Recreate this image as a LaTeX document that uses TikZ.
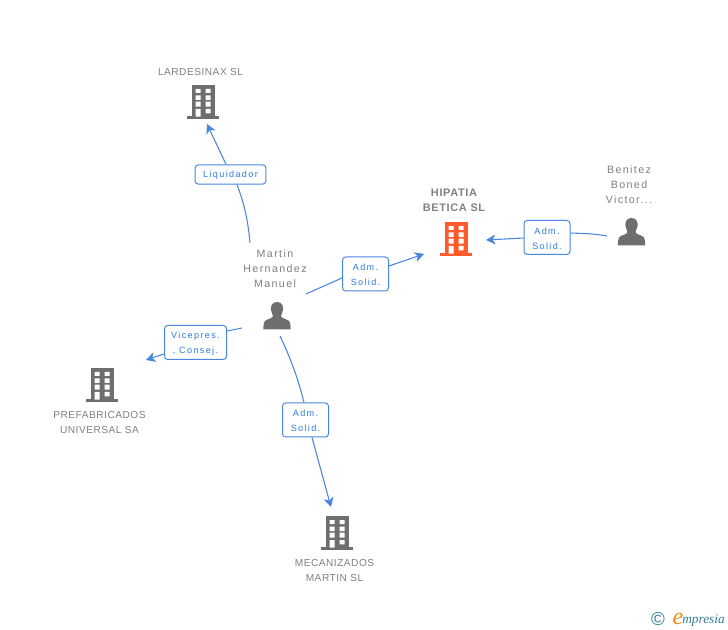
\documentclass[tikz,border=0pt]{standalone}
\usepackage{fontspec}
\setmainfont{Liberation Sans}[LetterSpace=6]
\newfontfamily\logofont{Liberation Serif}
\newfontfamily\wideface{Liberation Sans}[LetterSpace=13]
\newfontfamily\labelface{Liberation Sans}[LetterSpace=15]
\newfontfamily\capface{Liberation Sans}[LetterSpace=5]
\newfontfamily\copyface{Liberation Sans}
\newcommand\lowerstrut{\rule{0pt}{6.6pt}}
\usetikzlibrary{arrows.meta}
\definecolor{txtgrey}{HTML}{808080}
\definecolor{icongrey}{HTML}{6E6E6E}
\definecolor{iconred}{HTML}{FF5A2B}
\definecolor{linkblue}{HTML}{4A86E0}
\definecolor{labblue}{HTML}{2F7BE0}
\definecolor{logoteal}{HTML}{2F7F96}
\definecolor{logoorange}{HTML}{F08A1D}
\tikzset{
  caption/.style={text=txtgrey,font=\fontsize{7.6pt}{11.2pt}\capface,align=center,inner sep=0pt},
  personcaption/.style={caption,font=\fontsize{8pt}{11.2pt}\wideface},
  boldcaption/.style={caption,font=\fontsize{8.2pt}{11.2pt}\selectfont\bfseries},
  linklabel/.style={draw=linkblue,line width=0.75pt,rounded corners=2.4pt,fill=white,text=labblue,
    font=\fontsize{6.8pt}{11.2pt}\labelface,align=center,inner sep=0pt,minimum height=25.5pt},
  conn/.style={draw=linkblue,line width=0.8pt},
  arrowconn/.style={conn,-{Stealth[length=7pt,width=7.5pt,inset=2pt]}},
  pics/building/.style={code={
    \fill[#1] (-11,-17) rectangle (12,15);
    \fill[#1] (-16,14) rectangle (16,17);
    \fill[white] (-7.3,-13) rectangle (-2.3,-9) (2.7,-13) rectangle (7.7,-9)
                 (-7.3,-6.5) rectangle (-2.3,-2) (2.7,-6.5) rectangle (7.7,-2)
                 (-7.3,-0.3) rectangle (-2.3,4.7) (2.7,-0.3) rectangle (7.7,4.7)
                 (-7.3,7) rectangle (-2.3,14.7) (2.7,7) rectangle (7.7,11.3);
  }},
  pics/person/.style={code={
    \fill[icongrey] (0,-14) .. controls (-5.5,-14) and (-6.5,-9) .. (-6,-6)
      .. controls (-5.6,-3) and (-4,-1.5) .. (-4,0)
      .. controls (-4,2) and (-9,3) .. (-11.5,4.5)
      .. controls (-13.5,6) and (-13.5,10) .. (-13.7,13.5)
      -- (13.7,13.5) .. controls (13.5,10) and (13.5,6) .. (11.5,4.5)
      .. controls (9,3) and (4,2) .. (4,0)
      .. controls (4,-1.5) and (5.6,-3) .. (6,-6)
      .. controls (6.5,-9) and (5.5,-14) .. (0,-14) -- cycle;
  }}
}
\begin{document}
\begin{tikzpicture}[x=0.75pt,y=-0.75pt]
\useasboundingbox (0,0) rectangle (728,630);
\fill[white] (0,0) rectangle (728,630);

% icons
\pic at (203,102) {building=icongrey};
\pic at (456,239) {building=iconred};
\pic at (102,385) {building=icongrey};
\pic at (337,533) {building=icongrey};
\pic at (277,316) {person};
\pic at (631.5,232) {person};

% captions
\node[caption] (lardesinax) at (200.5,72) {LARDESINAX SL};
\node[boldcaption] (hipatia) at (454,200) {HIPATIA\\BETICA SL};
\node[personcaption] (benitez) at (629,184.5) {Benitez\\Boned\\Victor...};
\node[personcaption] (martin) at (275,269) {Martin\\Hernandez\\Manuel};
\node[caption] (prefabricados) at (99.5,422.5) {PREFABRICADOS\\UNIVERSAL SA};
\node[caption] (mecanizados) at (334.5,570.5) {MECANIZADOS\\MARTIN SL};

% connector labels
\node[linklabel,minimum width=53pt,minimum height=14.5pt] (liq) at (230.5,174.5) {\lowerstrut Liquidador};
\node[linklabel,minimum width=34.5pt] (adm1) at (365.5,274) {\lowerstrut Adm.\\Solid.};
\node[linklabel,minimum width=34.5pt] (adm2) at (547,237.5) {\lowerstrut Adm.\\Solid.};
\node[linklabel,minimum width=46.5pt] (vice) at (195.5,342.5) {\lowerstrut Vicepres.\\, Consej.};
\node[linklabel,minimum width=34.5pt] (adm3) at (305.5,420) {\lowerstrut Adm.\\Solid.};

% connector ends
\coordinate (liqS) at (250,243);
\coordinate (liqE) at (207,124);
\coordinate (m1S) at (306,294);
\coordinate (m1E) at (424,254);
\coordinate (bS) at (607,236);
\coordinate (bE) at (486,240);
\coordinate (vS) at (242,328);
\coordinate (vE) at (146,360);
\coordinate (mS) at (280,336);
\coordinate (mE) at (331,507);

% connectors
\draw[conn] (liqS) .. controls (248,220) and (244,203) .. (liq.south -| 237,0);
\draw[arrowconn] (liq.north -| 226,0) -- (liqE);
\draw[conn] (m1S) -- (adm1.west |- 0,278);
\draw[arrowconn] (adm1.east |- 0,266) -- (m1E);
\draw[conn] (bS) .. controls (594,233.5) and (582,233.5) .. (adm2.east |- 0,233);
\draw[arrowconn] (adm2.west |- 0,238) -- (bE);
\draw[conn] (vS) -- (vice.east |- 0,331);
\draw[arrowconn] (vice.west |- 0,354) -- (vE);
\draw[conn] (mS) .. controls (290,357) and (298,378) .. (adm3.north -| 304,0);
\draw[arrowconn] (adm3.south -| 312,0) -- (mE);

% logo
\node[inner sep=0pt,text=logoteal,font=\fontsize{14pt}{14pt}\copyface] (copy) at (658,619) {\textcopyright};
\node[inner sep=0pt,anchor=base west,text=logoteal,font=\fontsize{10pt}{11pt}\logofont\itshape] (brand) at (682,623) {mpresia};
\node[inner sep=0pt,anchor=base east,text=logoorange,font=\fontsize{18pt}{18pt}\logofont\itshape] (brande) at (683.5,624) {e};
\end{tikzpicture}
\end{document}
